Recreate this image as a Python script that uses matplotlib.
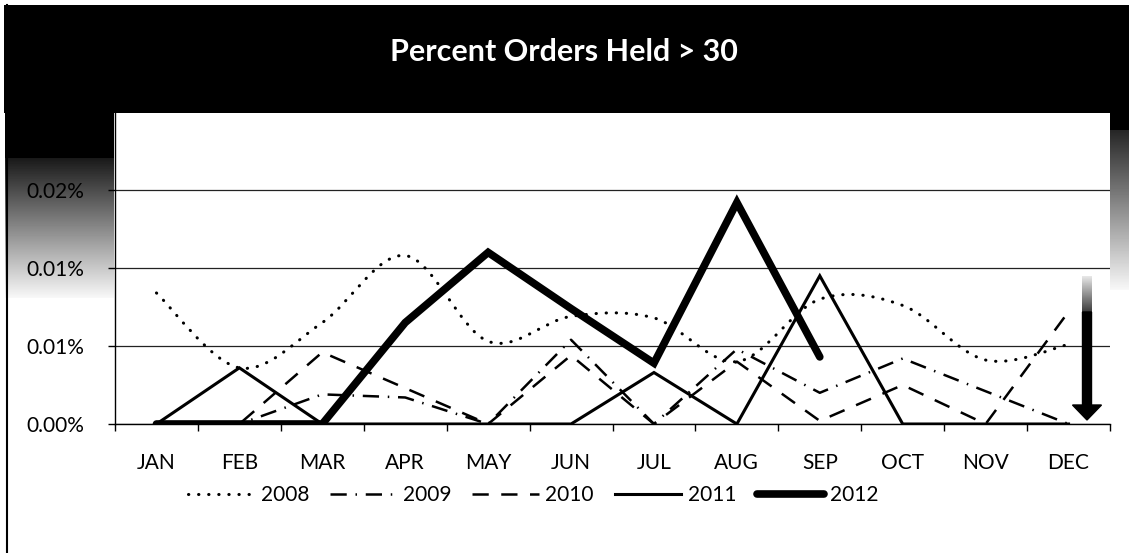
import math
import numpy as np
import matplotlib
matplotlib.use("Agg")
import matplotlib.pyplot as plt
from matplotlib.path import Path
from matplotlib.patches import PathPatch, Rectangle, FancyArrow
from matplotlib.lines import Line2D
from matplotlib.ticker import FuncFormatter

plt.rcParams['font.family'] = ['Lato', 'DejaVu Sans']

# values in percent (0.0084 -> 0.0084%)
months = ['JAN', 'FEB', 'MAR', 'APR', 'MAY', 'JUN', 'JUL', 'AUG', 'SEP', 'OCT', 'NOV', 'DEC']
y2008 = [0.0084, 0.0036, 0.0065, 0.0108, 0.0053, 0.0069, 0.0068, 0.0040, 0.0080, 0.0076, 0.0041, 0.0051]
y2009 = [0, 0, 0.0019, 0.0017, 0, 0.0054, 0, 0.0048, 0.0020, 0.0042, 0.0021, 0]
y2010 = [0, 0, 0.0046, 0.0023, 0, 0.0044, 0, 0.0040, 0.0002, 0.0025, 0, 0.0072]
y2011 = [0, 0.0036, 0, 0, 0, 0, 0.0033, 0, 0.0095, 0, 0, 0]
y2012 = [0, 0, 0, 0.0065, 0.0110, 0.0074, 0.0039, 0.0142, 0.0043]
years = ['2008', '2009', '2010', '2011', '2012']
yticks = [0, 0.005, 0.010, 0.015]

W, H = 1129, 553


def fx(px):
    return px / W


def fy(py):
    return 1 - py / H


def smooth_path(xs, ys):
    # excel style smoothed line: bezier through every point
    pts = np.column_stack([xs, ys]).astype(float)
    n = len(pts)
    verts = [pts[0]]
    codes = [Path.MOVETO]
    for i in range(n - 1):
        p0 = pts[max(i - 1, 0)]
        p1 = pts[i]
        p2 = pts[i + 1]
        p3 = pts[min(i + 2, n - 1)]
        verts += [p1 + (p2 - p0) / 6, p2 - (p3 - p1) / 6, p2]
        codes += [Path.CURVE4] * 3
    return Path(verts, codes)


fig = plt.figure(figsize=(W / 100, H / 100), dpi=100)
fig.patch.set_facecolor('white')

ax = fig.add_axes([fx(115), fy(424), fx(1110 - 115), (424 - 112) / H])
ax.set_zorder(2)

x = np.arange(len(months))

sty = {
    '2008': dict(lw=2.2, ls=(0, (0.1, 3.2))),
    '2009': dict(lw=1.8, ls=(0, (6.5, 3.5, 0.6, 3.5))),
    '2010': dict(lw=1.8, ls=(0, (6.5, 5))),
    '2011': dict(lw=2.2, ls='-'),
    '2012': dict(lw=5.5, ls='-'),
}

p = PathPatch(smooth_path(x, y2008), fill=False, edgecolor='black',
              lw=sty['2008']['lw'], linestyle=sty['2008']['ls'], capstyle='round', zorder=3)
ax.add_patch(p)
ax.plot(x, y2009, color='black', lw=sty['2009']['lw'], ls=sty['2009']['ls'], zorder=4)
ax.plot(x, y2010, color='black', lw=sty['2010']['lw'], ls=sty['2010']['ls'], zorder=5)
ax.plot(x, y2011, color='black', lw=sty['2011']['lw'], zorder=6, solid_joinstyle='miter')
ax.plot(x[:len(y2012)], y2012, color='black', lw=sty['2012']['lw'], zorder=7,
        solid_joinstyle='miter', solid_capstyle='round')

ax.set_xlim(-0.5, len(months) - 0.5)
ax.set_ylim(0, 0.02)
ax.set_xticks(x)
ax.set_xticklabels(months, fontsize=15)
ax.set_xticks(np.arange(-0.5, len(months), 1), minor=True)
ax.tick_params(axis='x', which='major', length=0, pad=21)
ax.tick_params(axis='x', which='minor', length=5, width=1, direction='out')
ax.set_yticks(yticks)
ax.yaxis.set_major_formatter(FuncFormatter(lambda v, pos: f'{math.floor(v * 100 + 0.5 + 1e-9) / 100:.2f}%'))
ax.tick_params(axis='y', length=5, width=1, pad=17, labelsize=15)
for sp in ['top', 'right']:
    ax.spines[sp].set_visible(False)
for sp in ['left', 'bottom']:
    ax.spines[sp].set_linewidth(1.0)
    ax.spines[sp].set_color('black')
ax.yaxis.grid(True, color='#222222', lw=0.9)
ax.set_axisbelow(True)

# dark fade on the left and right edges below the header
grad_l = np.concatenate([np.zeros(45), np.linspace(0.1, 0.97, 140)])
gl = fig.add_axes([fx(5), fy(298), fx(109), 185 / H])
gl.imshow(grad_l[:, None], cmap='gray', vmin=0, vmax=1, aspect='auto')
gl.axis('off')
gl.set_zorder(1)
grad_r = np.concatenate([np.zeros(17), np.linspace(0.15, 0.97, 160)])
gr = fig.add_axes([fx(1110), fy(290), fx(19), 177 / H])
gr.imshow(grad_r[:, None], cmap='gray', vmin=0, vmax=1, aspect='auto')
gr.axis('off')
gr.set_zorder(1)
ga = fig.add_axes([fx(1082), fy(314), fx(10), 38 / H])
ga.imshow(np.linspace(0.9, 0.2, 38)[:, None], cmap='gray', vmin=0, vmax=1, aspect='auto')
ga.axis('off')
ga.set_zorder(3)

# header band and border
fig.add_artist(Rectangle((fx(4), fy(113)), 1 - fx(4), (113 - 5) / H, facecolor='black',
                         edgecolor='none', transform=fig.transFigure, zorder=10))
fig.add_artist(Line2D([fx(7), fx(7)], [0, fy(5)], color='black', lw=1.5,
                      transform=fig.transFigure, zorder=10))
fig.text(fx(564), fy(52), 'Percent Orders Held > 30', color='white', fontsize=22,
         fontweight='bold', ha='center', va='center', zorder=11)

# arrow at DEC
fig.add_artist(FancyArrow(fx(1087), fy(312), 0, -(420 - 312) / H, width=fx(9), head_width=fx(29),
                          head_length=15 / H, length_includes_head=True, color='black',
                          transform=fig.transFigure, zorder=12))

handles = [
    Line2D([], [], color='black', lw=sty['2008']['lw'], ls=sty['2008']['ls'], dash_capstyle='round'),
    Line2D([], [], color='black', lw=sty['2009']['lw'], ls=sty['2009']['ls']),
    Line2D([], [], color='black', lw=sty['2010']['lw'], ls=sty['2010']['ls']),
    Line2D([], [], color='black', lw=sty['2011']['lw']),
    Line2D([], [], color='black', lw=sty['2012']['lw'], solid_capstyle='round'),
]
fig.legend(handles, years, loc='center left', bbox_to_anchor=(fx(188), fy(495)), ncol=5,
           frameon=False, handlelength=3.2, handletextpad=0.3, columnspacing=1.0,
           fontsize=15, borderaxespad=0, borderpad=0)

fig.savefig('out.png', dpi=100)
